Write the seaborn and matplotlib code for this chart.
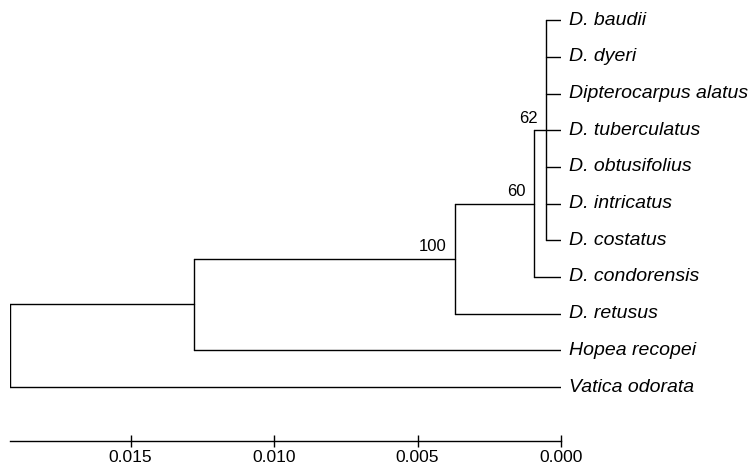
import matplotlib
matplotlib.use("Agg")
import matplotlib.pyplot as plt
import seaborn as sns
import numpy as np
import pandas as pd

# tree data (distances)
tips = ["D. baudii", "D. dyeri", "Dipterocarpus alatus", "D. tuberculatus",
        "D. obtusifolius", "D. intricatus", "D. costatus", "D. condorensis",
        "D. retusus", "Hopea recopei", "Vatica odorata"]
node_names = ["root", "A", "B", "C", "D"]
node_heights = [0.0192, 0.0128, 0.0037, 0.00094, 0.00052]
node_children = [["A", "Vatica odorata"],
                 ["B", "Hopea recopei"],
                 ["C", "D. retusus"],
                 ["D", "D. condorensis"],
                 tips[:7]]
support_nodes = ["B", "C", "D"]
support_values = [100, 60, 62]
tick_values = [0.015, 0.010, 0.005, 0.000]
tick_labels = ["0.015", "0.010", "0.005", "0.000"]

sns.set_style("white")
plt.rcParams["font.family"] = ["Liberation Sans", "DejaVu Sans"]
plt.rcParams["text.color"] = "black"
plt.rcParams["xtick.color"] = "black"

height = dict(zip(node_names, node_heights))
children = dict(zip(node_names, node_children))
for t in tips:
    height[t] = 0.0

ypos = {t: i for i, t in enumerate(tips)}


def place(n):
    if n in ypos:
        return ypos[n]
    ys = [place(c) for c in children[n]]
    ypos[n] = (min(ys) + max(ys)) / 2
    return ypos[n]


place("root")

rows = []
seg = 0
for n in node_names:
    ys = [ypos[c] for c in children[n]]
    rows += [(seg, height[n], min(ys)), (seg, height[n], max(ys))]
    seg += 1
    for c in children[n]:
        rows += [(seg, height[n], ypos[c]), (seg, height[c], ypos[c])]
        seg += 1
segs = pd.DataFrame(rows, columns=["seg", "x", "y"])

fig = plt.figure(figsize=(7.52, 4.67), dpi=100)
ax = fig.add_axes([10 / 752, 0.132, 551 / 752, 0.864])
sns.lineplot(data=segs, x="x", y="y", units="seg", estimator=None, sort=False,
             color="black", lw=1.0, ax=ax, legend=False)

for t in tips:
    ax.annotate(t, (0, ypos[t]), xytext=(6, 0), textcoords="offset points",
                ha="left", va="center", fontsize=14, style="italic",
                color="black", annotation_clip=False)

for n, v in zip(support_nodes, support_values):
    ax.annotate(str(v), (height[n], ypos[n]), xytext=(-6, 3),
                textcoords="offset points", ha="right", va="bottom",
                fontsize=12, color="black")

for s in ["top", "right", "left"]:
    ax.spines[s].set_visible(False)
ax.spines["bottom"].set_position(("outward", 26))
ax.spines["bottom"].set_bounds(node_heights[0], 0)
ax.spines["bottom"].set_color("black")
ax.spines["bottom"].set_linewidth(1.0)

ax.set_xlim(node_heights[0], 0)
ax.set_ylim(len(tips) - 0.5, -0.5)
ax.set_xlabel("")
ax.set_ylabel("")
ax.set_yticks([])
ax.set_xticks(tick_values)
ax.set_xticklabels(tick_labels)
ax.tick_params(axis="x", direction="inout", length=9, width=1.0,
               color="black", labelcolor="black", labelsize=12.5, pad=1.5,
               bottom=True)

fig.savefig("out.png", dpi=100)
